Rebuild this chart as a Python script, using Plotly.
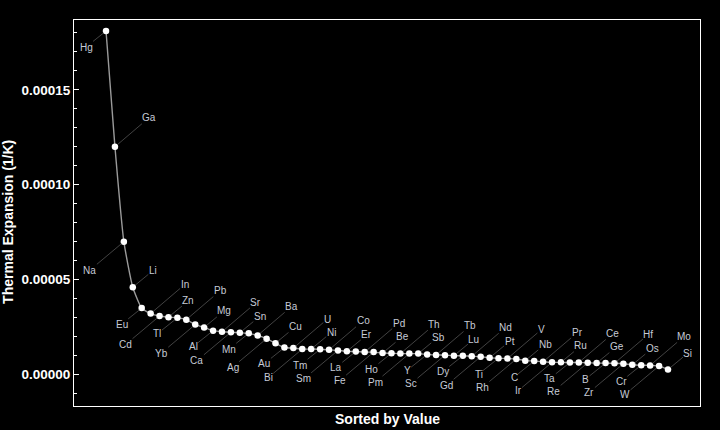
import plotly.graph_objects as go

# Elements sorted by thermal expansion (descending), values in 1/K
elements = ["Hg", "Ga", "Na", "Li", "Eu", "In", "Cd", "Zn", "Tl", "Pb",
            "Yb", "Mg", "Al", "Sr", "Ca", "Sn", "Mn", "Ba", "Ag", "Cu",
            "Au", "U", "Bi", "Ni", "Tm", "Co", "Sm", "Er", "La", "Pd",
            "Fe", "Be", "Ho", "Th", "Pm", "Sb", "Y", "Tb", "Sc", "Lu",
            "Dy", "Nd", "Gd", "Pt", "Ti", "V", "Rh", "Nb", "C", "Pr",
            "Ir", "Ru", "Ta", "Ce", "Re", "Ge", "B", "Hf", "Zr", "Os",
            "Cr", "Mo", "W", "Si"]
expansion_e6 = [181, 120, 70, 46, 35, 32.1, 30.8, 30.2, 29.9, 28.9,
                26.3, 24.8, 23.1, 22.5, 22.3, 22.0, 21.7, 20.6, 18.9, 16.5,
                14.2, 13.9, 13.4, 13.4, 13.3, 13.0, 12.7, 12.2, 12.1, 11.8,
                11.8, 11.3, 11.2, 11.0, 11.0, 11.0, 10.6, 10.3, 10.2, 9.9,
                9.9, 9.6, 9.4, 8.8, 8.6, 8.4, 8.2, 7.3, 7.1, 6.7,
                6.4, 6.4, 6.3, 6.3, 6.2, 6.0, 6.0, 5.9, 5.7, 5.1,
                4.9, 4.8, 4.5, 2.6]
values = [v * 1e-6 for v in expansion_e6]
rank = list(range(1, len(values) + 1))

y_ticks = [0.0, 0.00005, 0.00010, 0.00015]
y_tick_text = ["0.00000", "0.00005", "0.00010", "0.00015"]

FONT = "Liberation Sans, Arial, Helvetica, sans-serif"
LABEL_COLOR = "#c6cbd6"

fig = go.Figure()
fig.add_trace(go.Scatter(
    x=rank, y=values, mode="lines+markers",
    line=dict(color="#9a9a9a", width=1.4, shape="spline", smoothing=0.5),
    marker=dict(color="white", size=6.5, line=dict(width=0)),
    hoverinfo="text", text=elements, showlegend=False,
))

# callout label offsets cycle: down-left short, up-right long, down-left long, up-right short
pattern = {1: (-20, 16), 2: (34, -29), 3: (-34, 28.5), 0: (20, -16.5)}

annotations = []
for i, (el, v) in enumerate(zip(elements, values), start=1):
    ax, ay = pattern[i % 4]
    annotations.append(dict(
        x=i, y=v, xref="x", yref="y", text=el, showarrow=True,
        ax=ax, ay=ay, arrowhead=0, arrowwidth=0.7, arrowcolor="#5e5e5e",
        standoff=3, startstandoff=0,
        font=dict(family=FONT, size=10, color=LABEL_COLOR),
        borderpad=0,
    ))

annotations.append(dict(
    text="Sorted by Value", xref="paper", yref="paper", x=0.5, y=0,
    xanchor="center", yanchor="top", yshift=-3, showarrow=False,
    font=dict(family=FONT, size=14, color="white", weight="bold"),
))
annotations.append(dict(
    text="Thermal Expansion (1/K)", xref="paper", yref="paper", x=0, y=0.477,
    xanchor="center", yanchor="middle", xshift=-66, textangle=-90, showarrow=False,
    font=dict(family=FONT, size=14, color="white", weight="bold"),
))

fig.update_layout(
    width=720, height=430,
    paper_bgcolor="black", plot_bgcolor="black",
    margin=dict(l=74, r=20, t=20, b=24),
    annotations=annotations,
    xaxis=dict(
        range=[1 - 3.59, len(values) + 3.59],
        showgrid=False, zeroline=False, showticklabels=False, ticks="",
        showline=True, mirror=True, linecolor="white", linewidth=1,
    ),
    yaxis=dict(
        range=[-0.0000166, 0.0001868],
        tickvals=y_ticks, ticktext=y_tick_text,
        showgrid=False, zeroline=False,
        ticks="inside", ticklen=5, tickcolor="white", tickwidth=1,
        minor=dict(ticks="inside", ticklen=3, dtick=0.00001, tick0=0,
                   tickcolor="white", tickwidth=1, showgrid=False),
        showline=True, mirror=True, linecolor="white", linewidth=1,
        tickfont=dict(family=FONT, size=13.5, color="white", weight="bold"),
    ),
)

fig.write_html("out.html")
